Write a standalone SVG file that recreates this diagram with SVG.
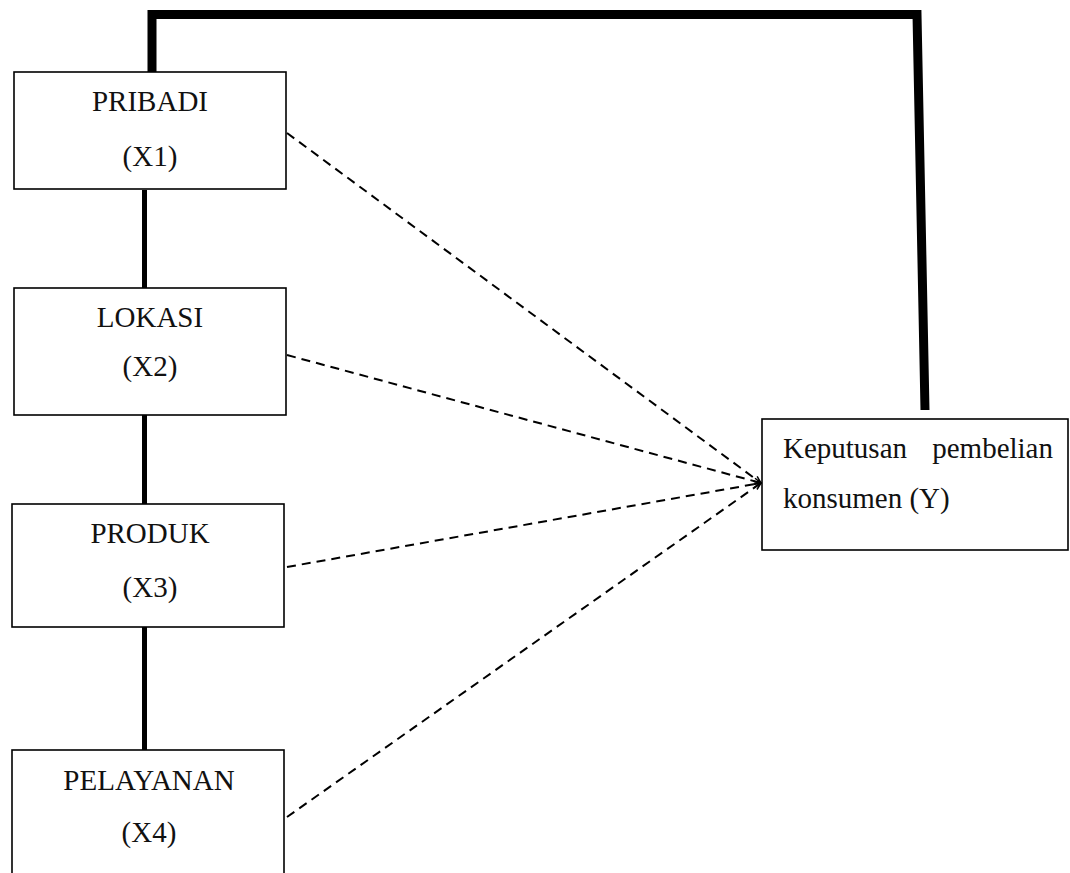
<svg xmlns="http://www.w3.org/2000/svg" width="1070" height="873" viewBox="0 0 1070 873">
<style>
.box{fill:#fff;stroke:#000;stroke-width:1.6}
.t{font-family:"Liberation Serif","Times New Roman",serif;font-size:29px;fill:#111}
.thick{fill:none;stroke:#000;stroke-width:9;stroke-linejoin:miter}
.link{fill:none;stroke:#000;stroke-width:5}
.dash{fill:none;stroke:#000;stroke-width:2;stroke-dasharray:9,6;marker-end:url(#arr)}
</style>
<defs>
<marker id="arr" markerWidth="10" markerHeight="10" refX="8" refY="4" orient="auto" markerUnits="userSpaceOnUse">
<path d="M1,1 L8,4 L1,7" fill="none" stroke="#000" stroke-width="1.5"/>
</marker>
</defs>
<g id="connectors">
<polyline class="thick" points="152,72 152,14.5 917,14.5 925,410"/>
<line class="link" x1="144.5" y1="190" x2="144.5" y2="288"/>
<line class="link" x1="144.5" y1="415" x2="144.5" y2="504"/>
<line class="link" x1="144.5" y1="627" x2="144.5" y2="750"/>
<line class="dash" x1="287" y1="133" x2="761" y2="483"/>
<line class="dash" x1="287" y1="355" x2="761" y2="483"/>
<line class="dash" x1="287" y1="567" x2="761" y2="483"/>
<line class="dash" x1="287" y1="817" x2="761" y2="483"/>
</g>
<g id="x1">
<rect class="box" x="14" y="72" width="272" height="117"/>
<text class="t" x="150" y="111" text-anchor="middle">PRIBADI</text>
<text class="t" x="150" y="166" text-anchor="middle">(X1)</text>
</g>
<g id="x2">
<rect class="box" x="14" y="288" width="272" height="127"/>
<text class="t" x="150" y="327" text-anchor="middle">LOKASI</text>
<text class="t" x="150" y="376" text-anchor="middle">(X2)</text>
</g>
<g id="x3">
<rect class="box" x="12" y="504" width="272" height="123"/>
<text class="t" x="150" y="543" text-anchor="middle">PRODUK</text>
<text class="t" x="150" y="597" text-anchor="middle">(X3)</text>
</g>
<g id="x4">
<rect class="box" x="12" y="750" width="272" height="140"/>
<text class="t" x="149" y="790" text-anchor="middle">PELAYANAN</text>
<text class="t" x="149" y="842" text-anchor="middle">(X4)</text>
</g>
<g id="y">
<rect class="box" x="762" y="419" width="306" height="131"/>
<text class="t" x="783" y="458">Keputusan</text>
<text class="t" x="1053" y="458" text-anchor="end">pembelian</text>
<text class="t" x="783" y="508">konsumen (Y)</text>
</g>
</svg>
